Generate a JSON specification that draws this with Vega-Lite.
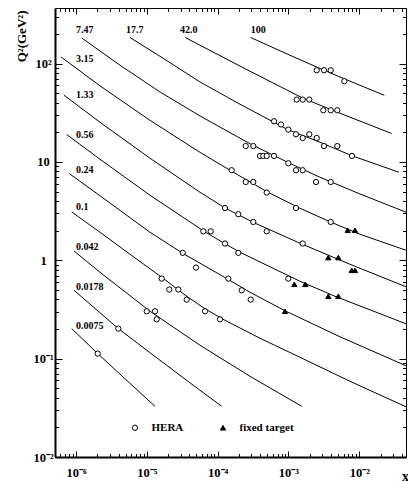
{
  "$schema": "https://vega.github.io/schema/vega-lite/v6.json",
  "width": 351,
  "height": 449,
  "autosize": {"type": "none"},
  "padding": {"left": 55, "top": 8, "right": 2, "bottom": 25},
  "background": "white",
  "config": {
    "view": {"stroke": null},
    "font": "Liberation Serif",
    "axis": {"grid": false, "labelFont": "Liberation Serif", "labelFontWeight": "bold", "titleFont": "Liberation Serif", "titleFontWeight": "bold", "tickColor": "black", "domainColor": "black", "labelColor": "black", "titleColor": "black", "tickWidth": 1}
  },
  "datasets": {
    "curves": [
      {"tau": "100", "x": 2.926e-4, "q2": 183.8}, {"tau": "100", "x": 1.050e-3, "q2": 121.4}, {"tau": "100", "x": 3.172e-3, "q2": 85.5}, {"tau": "100", "x": 8.689e-3, "q2": 63.05}, {"tau": "100", "x": 0.02253, "q2": 47.6},
      {"tau": "42.0", "x": 3.492e-5, "q2": 183.8}, {"tau": "42.0", "x": 5.630e-5, "q2": 153.5}, {"tau": "42.0", "x": 2.861e-4, "q2": 83.5}, {"tau": "42.0", "x": 1.603e-3, "q2": 44.4}, {"tau": "42.0", "x": 5.338e-3, "q2": 31.24}, {"tau": "42.0", "x": 0.02865, "q2": 19.43},
      {"tau": "17.7", "x": 5.787e-6, "q2": 183.8}, {"tau": "17.7", "x": 1.534e-5, "q2": 118.6}, {"tau": "17.7", "x": 5.630e-5, "q2": 65.0}, {"tau": "17.7", "x": 2.067e-4, "q2": 38.57}, {"tau": "17.7", "x": 9.842e-4, "q2": 21.23}, {"tau": "17.7", "x": 2.785e-3, "q2": 15.84}, {"tau": "17.7", "x": 7.880e-3, "q2": 11.55}, {"tau": "17.7", "x": 0.03633, "q2": 7.85},
      {"tau": "7.47", "x": 1.204e-6, "q2": 182.1}, {"tau": "7.47", "x": 4.179e-6, "q2": 96.1}, {"tau": "7.47", "x": 1.534e-5, "q2": 51.4}, {"tau": "7.47", "x": 5.630e-5, "q2": 29.33}, {"tau": "7.47", "x": 2.861e-4, "q2": 15.30}, {"tau": "7.47", "x": 9.842e-4, "q2": 9.87}, {"tau": "7.47", "x": 2.785e-3, "q2": 6.98}, {"tau": "7.47", "x": 0.01022, "q2": 4.72}, {"tau": "7.47", "x": 0.04561, "q2": 3.084},
      {"tau": "3.15", "x": 6.140e-7, "q2": 116.7}, {"tau": "3.15", "x": 2.182e-6, "q2": 59.33}, {"tau": "3.15", "x": 1.109e-5, "q2": 26.46}, {"tau": "3.15", "x": 5.630e-5, "q2": 12.51}, {"tau": "3.15", "x": 1.578e-4, "q2": 8.03}, {"tau": "3.15", "x": 4.925e-4, "q2": 4.994}, {"tau": "3.15", "x": 1.454e-3, "q2": 3.379}, {"tau": "3.15", "x": 3.943e-3, "q2": 2.446}, {"tau": "3.15", "x": 0.01022, "q2": 1.838}, {"tau": "3.15", "x": 0.04561, "q2": 1.264},
      {"tau": "1.33", "x": 6.771e-7, "q2": 47.62}, {"tau": "1.33", "x": 2.182e-6, "q2": 25.3}, {"tau": "1.33", "x": 1.109e-5, "q2": 10.89}, {"tau": "1.33", "x": 5.630e-5, "q2": 4.914}, {"tau": "1.33", "x": 1.269e-4, "q2": 3.403}, {"tau": "1.33", "x": 3.155e-4, "q2": 2.434}, {"tau": "1.33", "x": 1.454e-3, "q2": 1.489}, {"tau": "1.33", "x": 7.385e-3, "q2": 0.9106}, {"tau": "1.33", "x": 0.04561, "q2": 0.5375},
      {"tau": "0.56", "x": 7.389e-7, "q2": 18.97}, {"tau": "0.56", "x": 2.182e-6, "q2": 10.64}, {"tau": "0.56", "x": 1.109e-5, "q2": 4.58}, {"tau": "0.56", "x": 6.412e-5, "q2": 1.972}, {"tau": "0.56", "x": 1.269e-4, "q2": 1.472}, {"tau": "0.56", "x": 2.067e-4, "q2": 1.206}, {"tau": "0.56", "x": 1.454e-3, "q2": 0.6116}, {"tau": "0.56", "x": 4.535e-3, "q2": 0.4306}, {"tau": "0.56", "x": 0.04561, "q2": 0.2261},
      {"tau": "0.24", "x": 8.042e-7, "q2": 7.61}, {"tau": "0.24", "x": 2.182e-6, "q2": 4.527}, {"tau": "0.24", "x": 1.109e-5, "q2": 1.926}, {"tau": "0.24", "x": 3.209e-5, "q2": 1.178}, {"tau": "0.24", "x": 1.399e-4, "q2": 0.6409}, {"tau": "0.24", "x": 2.861e-4, "q2": 0.4727}, {"tau": "0.24", "x": 8.926e-4, "q2": 0.3066}, {"tau": "0.24", "x": 5.338e-3, "q2": 0.1668}, {"tau": "0.24", "x": 0.04561, "q2": 0.08459},
      {"tau": "0.1", "x": 8.694e-7, "q2": 3.098}, {"tau": "0.1", "x": 2.182e-6, "q2": 1.926}, {"tau": "0.1", "x": 5.787e-6, "q2": 1.151}, {"tau": "0.1", "x": 1.621e-5, "q2": 0.6716}, {"tau": "0.1", "x": 3.655e-5, "q2": 0.4306}, {"tau": "0.1", "x": 6.625e-5, "q2": 0.3212}, {"tau": "0.1", "x": 1.269e-4, "q2": 0.2455}, {"tau": "0.1", "x": 3.961e-4, "q2": 0.1610}, {"tau": "0.1", "x": 1.454e-3, "q2": 0.1032}, {"tau": "0.1", "x": 7.385e-3, "q2": 0.05884}, {"tau": "0.1", "x": 0.04561, "q2": 0.03239},
      {"tau": "0.042", "x": 9.37e-7, "q2": 1.243}, {"tau": "0.042", "x": 2.182e-6, "q2": 0.7551}, {"tau": "0.042", "x": 1.109e-5, "q2": 0.3030}, {"tau": "0.042", "x": 5.630e-5, "q2": 0.1367}, {"tau": "0.042", "x": 2.861e-4, "q2": 0.06616}, {"tau": "0.042", "x": 1.537e-3, "q2": 0.03277},
      {"tau": "0.0178", "x": 9.37e-7, "q2": 0.4955}, {"tau": "0.0178", "x": 1.916e-6, "q2": 0.3174}, {"tau": "0.0178", "x": 3.956e-6, "q2": 0.2020}, {"tau": "0.0178", "x": 1.534e-5, "q2": 0.09621}, {"tau": "0.0178", "x": 5.630e-5, "q2": 0.04767}, {"tau": "0.0178", "x": 1.140e-4, "q2": 0.03277},
      {"tau": "0.0075", "x": 8.694e-7, "q2": 0.2020}, {"tau": "0.0075", "x": 2.025e-6, "q2": 0.1125}, {"tau": "0.0075", "x": 4.917e-6, "q2": 0.06238}, {"tau": "0.0075", "x": 1.304e-5, "q2": 0.03277}
    ],
    "points": [
      {"set": "HERA", "x": 2.502e-3, "q2": 85.5}, {"set": "HERA", "x": 3.172e-3, "q2": 85.5}, {"set": "HERA", "x": 3.943e-3, "q2": 85.5}, {"set": "HERA", "x": 6.138e-3, "q2": 66.1},
      {"set": "HERA", "x": 1.305e-3, "q2": 43.0}, {"set": "HERA", "x": 1.587e-3, "q2": 43.0}, {"set": "HERA", "x": 1.967e-3, "q2": 43.0}, {"set": "HERA", "x": 3.101e-3, "q2": 33.5}, {"set": "HERA", "x": 3.943e-3, "q2": 33.5}, {"set": "HERA", "x": 4.888e-3, "q2": 33.5},
      {"set": "HERA", "x": 6.243e-4, "q2": 25.9}, {"set": "HERA", "x": 7.836e-4, "q2": 24.0}, {"set": "HERA", "x": 9.938e-4, "q2": 21.3}, {"set": "HERA", "x": 1.276e-3, "q2": 19.1}, {"set": "HERA", "x": 1.587e-3, "q2": 17.5}, {"set": "HERA", "x": 1.967e-3, "q2": 19.1}, {"set": "HERA", "x": 2.502e-3, "q2": 17.5}, {"set": "HERA", "x": 3.172e-3, "q2": 14.5}, {"set": "HERA", "x": 4.888e-3, "q2": 14.5}, {"set": "HERA", "x": 7.880e-3, "q2": 11.5},
      {"set": "HERA", "x": 2.488e-4, "q2": 14.5}, {"set": "HERA", "x": 3.185e-4, "q2": 14.5}, {"set": "HERA", "x": 3.961e-4, "q2": 11.5}, {"set": "HERA", "x": 4.410e-4, "q2": 11.5}, {"set": "HERA", "x": 4.925e-4, "q2": 11.5}, {"set": "HERA", "x": 6.243e-4, "q2": 11.5}, {"set": "HERA", "x": 9.938e-4, "q2": 9.69},
      {"set": "HERA", "x": 1.276e-3, "q2": 8.23}, {"set": "HERA", "x": 1.587e-3, "q2": 8.23}, {"set": "HERA", "x": 2.445e-3, "q2": 6.25}, {"set": "HERA", "x": 3.943e-3, "q2": 6.25},
      {"set": "HERA", "x": 1.578e-4, "q2": 8.23}, {"set": "HERA", "x": 2.488e-4, "q2": 6.25}, {"set": "HERA", "x": 3.185e-4, "q2": 6.25}, {"set": "HERA", "x": 4.925e-4, "q2": 4.88}, {"set": "HERA", "x": 1.276e-3, "q2": 3.40}, {"set": "HERA", "x": 3.943e-3, "q2": 2.45},
      {"set": "HERA", "x": 1.269e-4, "q2": 3.40}, {"set": "HERA", "x": 1.956e-4, "q2": 2.94}, {"set": "HERA", "x": 3.185e-4, "q2": 2.45}, {"set": "HERA", "x": 4.925e-4, "q2": 1.97}, {"set": "HERA", "x": 1.587e-3, "q2": 1.48},
      {"set": "HERA", "x": 6.269e-5, "q2": 1.97}, {"set": "HERA", "x": 7.973e-5, "q2": 1.97}, {"set": "HERA", "x": 1.269e-4, "q2": 1.48}, {"set": "HERA", "x": 1.956e-4, "q2": 1.19}, {"set": "HERA", "x": 9.938e-4, "q2": 0.651},
      {"set": "HERA", "x": 3.209e-5, "q2": 1.19}, {"set": "HERA", "x": 4.945e-5, "q2": 0.843}, {"set": "HERA", "x": 1.413e-4, "q2": 0.651}, {"set": "HERA", "x": 2.184e-4, "q2": 0.495}, {"set": "HERA", "x": 2.926e-4, "q2": 0.398},
      {"set": "HERA", "x": 1.621e-5, "q2": 0.651}, {"set": "HERA", "x": 2.076e-5, "q2": 0.504}, {"set": "HERA", "x": 2.782e-5, "q2": 0.504}, {"set": "HERA", "x": 3.655e-5, "q2": 0.398}, {"set": "HERA", "x": 6.625e-5, "q2": 0.303}, {"set": "HERA", "x": 1.079e-4, "q2": 0.251},
      {"set": "HERA", "x": 9.96e-6, "q2": 0.303}, {"set": "HERA", "x": 1.304e-5, "q2": 0.303}, {"set": "HERA", "x": 1.378e-5, "q2": 0.251},
      {"set": "HERA", "x": 3.956e-6, "q2": 0.202}, {"set": "HERA", "x": 2.025e-6, "q2": 0.1125},
      {"set": "fixed target", "x": 6.855e-3, "q2": 2.018}, {"set": "fixed target", "x": 8.689e-3, "q2": 2.018}, {"set": "fixed target", "x": 3.648e-3, "q2": 1.065}, {"set": "fixed target", "x": 5.049e-3, "q2": 1.065}, {"set": "fixed target", "x": 7.804e-3, "q2": 0.791}, {"set": "fixed target", "x": 8.689e-3, "q2": 0.791}, {"set": "fixed target", "x": 1.208e-3, "q2": 0.570}, {"set": "fixed target", "x": 1.727e-3, "q2": 0.570}, {"set": "fixed target", "x": 3.648e-3, "q2": 0.4306}, {"set": "fixed target", "x": 5.049e-3, "q2": 0.4306}, {"set": "fixed target", "x": 8.926e-4, "q2": 0.303}
    ],
    "labels": [
      {"label": "7.47", "x": 1e-6, "q2": 218}, {"label": "17.7", "x": 5.08e-6, "q2": 218}, {"label": "42.0", "x": 2.94e-5, "q2": 218}, {"label": "100", "x": 2.93e-4, "q2": 218},
      {"label": "3.15", "x": 1e-6, "q2": 110}, {"label": "1.33", "x": 1e-6, "q2": 48.4}, {"label": "0.56", "x": 1e-6, "q2": 18.7}, {"label": "0.24", "x": 1e-6, "q2": 8.23}, {"label": "0.1", "x": 1e-6, "q2": 3.48}, {"label": "0.042", "x": 1e-6, "q2": 1.37}, {"label": "0.0178", "x": 1e-6, "q2": 0.53}, {"label": "0.0075", "x": 1e-6, "q2": 0.217}
    ]
  },
  "resolve": {"axis": {"x": "independent", "y": "independent"}},
  "layer": [
    {
      "data": {"name": "curves"},
      "mark": {"type": "line", "color": "black", "strokeWidth": 1, "clip": true},
      "encoding": {
        "x": {"field": "x", "type": "quantitative", "scale": {"type": "log", "domain": [5.05e-7, 0.04561], "nice": false, "zero": false},
          "axis": {"orient": "bottom", "values": [1e-6, 1e-5, 1e-4, 1e-3, 1e-2], "tickSize": -6, "domainWidth": 2, "labelFontSize": 12.5, "labelAlign": "center", "labelBaseline": "middle", "labelPadding": 21, "labelDx": 2,
            "labelExpr": "datum.value < 5e-6 ? '10⁻⁶' : datum.value < 5e-5 ? '10⁻⁵' : datum.value < 5e-4 ? '10⁻⁴' : datum.value < 5e-3 ? '10⁻³' : '10⁻²'",
            "title": "x", "titleFontSize": 14, "titleX": 350, "titleY": 23, "titleAlign": "center", "titleBaseline": "alphabetic"}},
        "y": {"field": "q2", "type": "quantitative", "scale": {"type": "log", "domain": [0.01, 367], "nice": false, "zero": false},
          "axis": {"orient": "left", "values": [0.01, 0.1, 1, 10, 100], "tickSize": -7, "domainWidth": 2, "labelFontSize": 12.5, "labelAlign": "center", "labelBaseline": "middle", "labelPadding": 19,
            "labelExpr": "datum.value > 50 ? '10²' : datum.value > 5 ? '10' : datum.value > 0.5 ? '1' : datum.value > 0.05 ? '10⁻¹' : '10⁻²'",
            "title": "Q²(GeV²)", "titleFontSize": 13, "titleAngle": 270, "titleX": -34, "titleY": 2, "titleAlign": "right", "titleBaseline": "middle"}},
        "detail": {"field": "tau", "type": "nominal"}
      }
    },
    {
      "data": {"name": "points"},
      "mark": {"type": "point", "filled": true, "stroke": "black", "strokeWidth": 1, "size": 28, "opacity": 1},
      "encoding": {
        "x": {"field": "x", "type": "quantitative", "scale": {"type": "log", "domain": [5.05e-7, 0.04561], "nice": false, "zero": false},
          "axis": {"orient": "bottom", "values": [6e-7, 7e-7, 8e-7, 9e-7, 2e-6, 3e-6, 4e-6, 5e-6, 6e-6, 7e-6, 8e-6, 9e-6, 2e-5, 3e-5, 4e-5, 5e-5, 6e-5, 7e-5, 8e-5, 9e-5, 2e-4, 3e-4, 4e-4, 5e-4, 6e-4, 7e-4, 8e-4, 9e-4, 2e-3, 3e-3, 4e-3, 5e-3, 6e-3, 7e-3, 8e-3, 9e-3, 0.02, 0.03, 0.04], "tickSize": -3.5, "labels": false, "domain": false, "title": null}},
        "y": {"field": "q2", "type": "quantitative", "scale": {"type": "log", "domain": [0.01, 367], "nice": false, "zero": false},
          "axis": {"orient": "left", "values": [0.02, 0.03, 0.04, 0.05, 0.06, 0.07, 0.08, 0.09, 0.2, 0.3, 0.4, 0.5, 0.6, 0.7, 0.8, 0.9, 2, 3, 4, 5, 6, 7, 8, 9, 20, 30, 40, 50, 60, 70, 80, 90, 200, 300], "tickSize": -3.5, "labels": false, "domain": false, "title": null}},
        "shape": {"field": "set", "type": "nominal", "scale": {"domain": ["HERA", "fixed target"], "range": ["circle", "triangle-up"]},
          "legend": {"title": null, "orient": "none", "legendX": 74.5, "legendY": 414, "direction": "horizontal", "labelFontSize": 11, "labelFont": "Liberation Serif", "labelFontWeight": "bold", "labelColor": "black", "symbolSize": 28, "labelOffset": 11, "columnPadding": 34, "padding": 0,
            "symbolOpacity": 1, "symbolStrokeColor": "black", "symbolStrokeWidth": 1,
            "encode": {"symbols": {"update": {"stroke": {"value": "black"}, "strokeWidth": {"value": 1}, "opacity": {"value": 1}}}}}},
        "fill": {"field": "set", "type": "nominal", "scale": {"domain": ["HERA", "fixed target"], "range": ["white", "black"]},
          "legend": {"title": null, "orient": "none", "legendX": 74.5, "legendY": 414, "direction": "horizontal", "labelFontSize": 11, "labelFont": "Liberation Serif", "labelFontWeight": "bold", "labelColor": "black", "symbolSize": 28, "labelOffset": 11, "columnPadding": 34, "padding": 0,
            "symbolOpacity": 1, "symbolStrokeColor": "black", "symbolStrokeWidth": 1,
            "encode": {"symbols": {"update": {"stroke": {"value": "black"}, "strokeWidth": {"value": 1}, "opacity": {"value": 1}}}}}}
      }
    },
    {
      "data": {"name": "labels"},
      "transform": [{"filter": "datum.q2 > 150"}],
      "mark": {"type": "text", "align": "left", "baseline": "middle", "fontSize": 10, "fontWeight": "bold", "font": "Liberation Serif", "color": "black"},
      "encoding": {
        "x": {"field": "x", "type": "quantitative", "scale": {"type": "log", "domain": [5.05e-7, 0.04561], "nice": false, "zero": false},
          "axis": {"orient": "top", "values": [1e-6, 1e-5, 1e-4, 1e-3, 1e-2], "tickSize": -6, "labels": false, "domainWidth": 1, "title": null}},
        "y": {"field": "q2", "type": "quantitative", "scale": {"type": "log", "domain": [0.01, 367], "nice": false, "zero": false},
          "axis": {"orient": "right", "values": [0.01, 0.1, 1, 10, 100], "tickSize": -7, "labels": false, "domainWidth": 1, "title": null}},
        "text": {"field": "label", "type": "nominal"}
      }
    },
    {
      "data": {"name": "labels"},
      "transform": [{"filter": "datum.q2 <= 150"}],
      "mark": {"type": "text", "align": "left", "baseline": "middle", "fontSize": 10, "fontWeight": "bold", "font": "Liberation Serif", "color": "black"},
      "encoding": {
        "x": {"field": "x", "type": "quantitative", "scale": {"type": "log", "domain": [5.05e-7, 0.04561], "nice": false, "zero": false},
          "axis": {"orient": "top", "values": [6e-7, 7e-7, 8e-7, 9e-7, 2e-6, 3e-6, 4e-6, 5e-6, 6e-6, 7e-6, 8e-6, 9e-6, 2e-5, 3e-5, 4e-5, 5e-5, 6e-5, 7e-5, 8e-5, 9e-5, 2e-4, 3e-4, 4e-4, 5e-4, 6e-4, 7e-4, 8e-4, 9e-4, 2e-3, 3e-3, 4e-3, 5e-3, 6e-3, 7e-3, 8e-3, 9e-3, 0.02, 0.03, 0.04], "tickSize": -3.5, "labels": false, "domain": false, "title": null}},
        "y": {"field": "q2", "type": "quantitative", "scale": {"type": "log", "domain": [0.01, 367], "nice": false, "zero": false},
          "axis": {"orient": "right", "values": [0.02, 0.03, 0.04, 0.05, 0.06, 0.07, 0.08, 0.09, 0.2, 0.3, 0.4, 0.5, 0.6, 0.7, 0.8, 0.9, 2, 3, 4, 5, 6, 7, 8, 9, 20, 30, 40, 50, 60, 70, 80, 90, 200, 300], "tickSize": -3.5, "labels": false, "domain": false, "title": null}},
        "text": {"field": "label", "type": "nominal"}
      }
    }
  ]
}
